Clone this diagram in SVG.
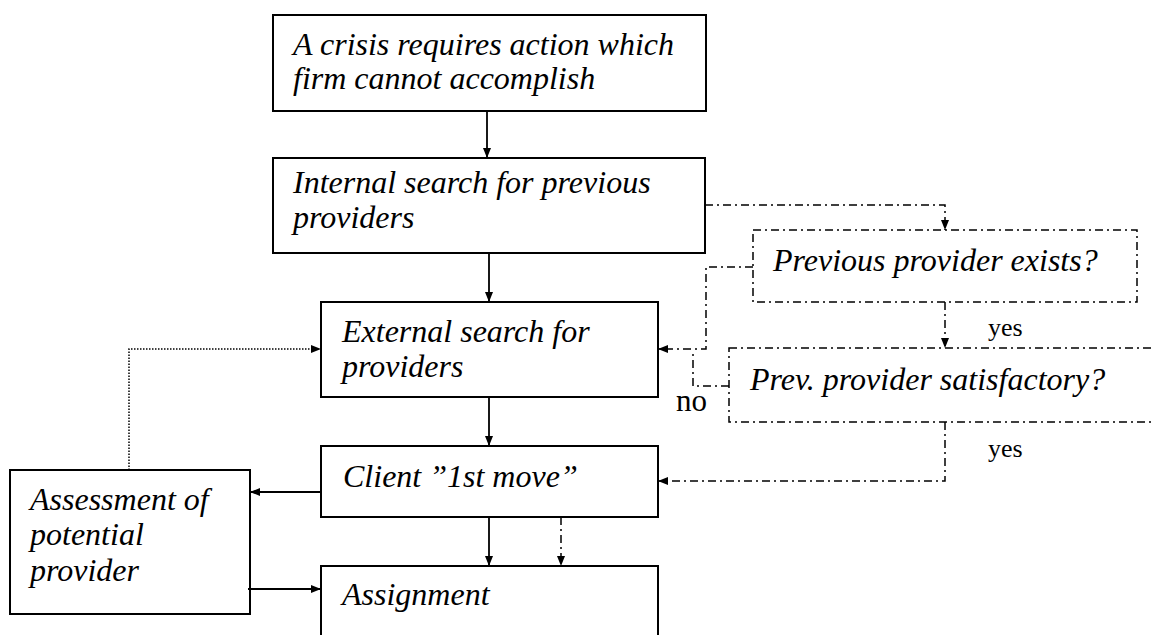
<svg xmlns="http://www.w3.org/2000/svg" width="1153" height="635" viewBox="0 0 1153 635">
  <style>
    text { font-family: 'Liberation Serif', 'Times New Roman', serif !important; fill: #000; }
    .node-label { font-style: italic; font-size: 32px; }
    .node-box { fill: #fff; stroke: #000; stroke-width: 2; }
    .query-box { fill: none; stroke: #000; stroke-width: 1.5; stroke-dasharray: 8 4 2 4; }
    .flow { fill: none; stroke: #000; stroke-width: 1.8; }
    .flow-dashdot { fill: none; stroke: #000; stroke-width: 1.5; stroke-dasharray: 8 4 2 4; }
    .flow-dotted { fill: none; stroke: #000; stroke-width: 1.5; stroke-dasharray: 1.5 1.5; }
  </style>
  <defs>
    <marker id="ah" viewBox="0 0 10 10" refX="10" refY="5" markerWidth="10" markerHeight="10" markerUnits="userSpaceOnUse" orient="auto">
      <path d="M0,1 L10,5 L0,9 Z" fill="#000"/>
    </marker>
  </defs>

  <rect width="1153" height="635" fill="#fff"/>

  <!-- process steps: solid boxes, italic labels -->
  <g id="crisis">
    <rect class="node-box" x="273" y="15" width="433" height="96"/>
    <text class="node-label" style="font-family:'Liberation Serif',serif !important" x="293" y="55">A crisis requires action which</text>
    <text class="node-label" style="font-family:'Liberation Serif',serif !important" x="293" y="89">firm cannot accomplish</text>
  </g>

  <g id="internal-search">
    <rect class="node-box" x="273" y="158" width="432" height="95"/>
    <text class="node-label" style="font-family:'Liberation Serif',serif !important" x="293" y="193">Internal search for previous</text>
    <text class="node-label" style="font-family:'Liberation Serif',serif !important" x="293" y="228">providers</text>
  </g>

  <g id="external-search">
    <rect class="node-box" x="321" y="302" width="337" height="95"/>
    <text class="node-label" style="font-family:'Liberation Serif',serif !important" x="342" y="342">External search for</text>
    <text class="node-label" style="font-family:'Liberation Serif',serif !important" x="342" y="377">providers</text>
  </g>

  <g id="client-first-move">
    <rect class="node-box" x="321" y="446" width="337" height="71"/>
    <text class="node-label" style="font-family:'Liberation Serif',serif !important" x="343" y="487">Client &#8221;1st move&#8221;</text>
  </g>

  <g id="assignment">
    <rect class="node-box" x="321" y="566" width="337" height="90"/>
    <text class="node-label" style="font-family:'Liberation Serif',serif !important" x="342" y="605">Assignment</text>
  </g>

  <g id="assessment">
    <rect class="node-box" x="10" y="470" width="240" height="144"/>
    <text class="node-label" style="font-family:'Liberation Serif',serif !important" x="30" y="510">Assessment of</text>
    <text class="node-label" style="font-family:'Liberation Serif',serif !important" x="30" y="545">potential</text>
    <text class="node-label" style="font-family:'Liberation Serif',serif !important" x="30" y="581">provider</text>
  </g>

  <!-- decision boxes: dash-dot outline -->
  <g id="provider-exists">
    <rect class="query-box" x="753" y="230" width="384" height="72"/>
    <text class="node-label" style="font-family:'Liberation Serif',serif !important" x="773" y="271">Previous provider exists?</text>
  </g>

  <g id="provider-satisfactory">
    <rect class="query-box" x="729" y="348" width="450" height="74"/>
    <text class="node-label" style="font-family:'Liberation Serif',serif !important" x="750" y="390">Prev. provider satisfactory?</text>
  </g>

  <g id="connectors">
    <!-- main solid flow -->
    <line class="flow" x1="487" y1="111" x2="487" y2="158" marker-end="url(#ah)"/>
    <line class="flow" x1="489" y1="253" x2="489" y2="302" marker-end="url(#ah)"/>
    <line class="flow" x1="489" y1="397" x2="489" y2="446" marker-end="url(#ah)"/>
    <line class="flow" x1="489" y1="517" x2="489" y2="566" marker-end="url(#ah)"/>
    <line class="flow" x1="321" y1="492" x2="250" y2="492" marker-end="url(#ah)"/>
    <line class="flow" x1="248" y1="589" x2="321" y2="589" marker-end="url(#ah)"/>

    <!-- feedback from assessment -->
    <path class="flow-dotted" d="M129,470 V349 H321" marker-end="url(#ah)"/>

    <!-- previous-provider branch -->
    <path class="flow-dashdot" d="M705,205 H945 V230" marker-end="url(#ah)"/>
    <path class="flow-dashdot" d="M753,267 H706 V349 H658" marker-end="url(#ah)"/>
    <path class="flow-dashdot" d="M729,386 H693 V350"/>
    <line class="flow-dashdot" x1="945" y1="302" x2="945" y2="348" marker-end="url(#ah)"/>
    <path class="flow-dashdot" d="M945,422 V481 H658" marker-end="url(#ah)"/>
    <line class="flow-dashdot" x1="561" y1="517" x2="561" y2="566" marker-end="url(#ah)"/>
  </g>

  <g id="branch-labels">
    <text style="font-family:'Liberation Serif',serif !important" font-size="26" x="988" y="336">yes</text>
    <text style="font-family:'Liberation Serif',serif !important" font-size="26" x="988" y="457">yes</text>
    <text style="font-family:'Liberation Serif',serif !important" font-size="31" x="676" y="411">no</text>
  </g>
</svg>
